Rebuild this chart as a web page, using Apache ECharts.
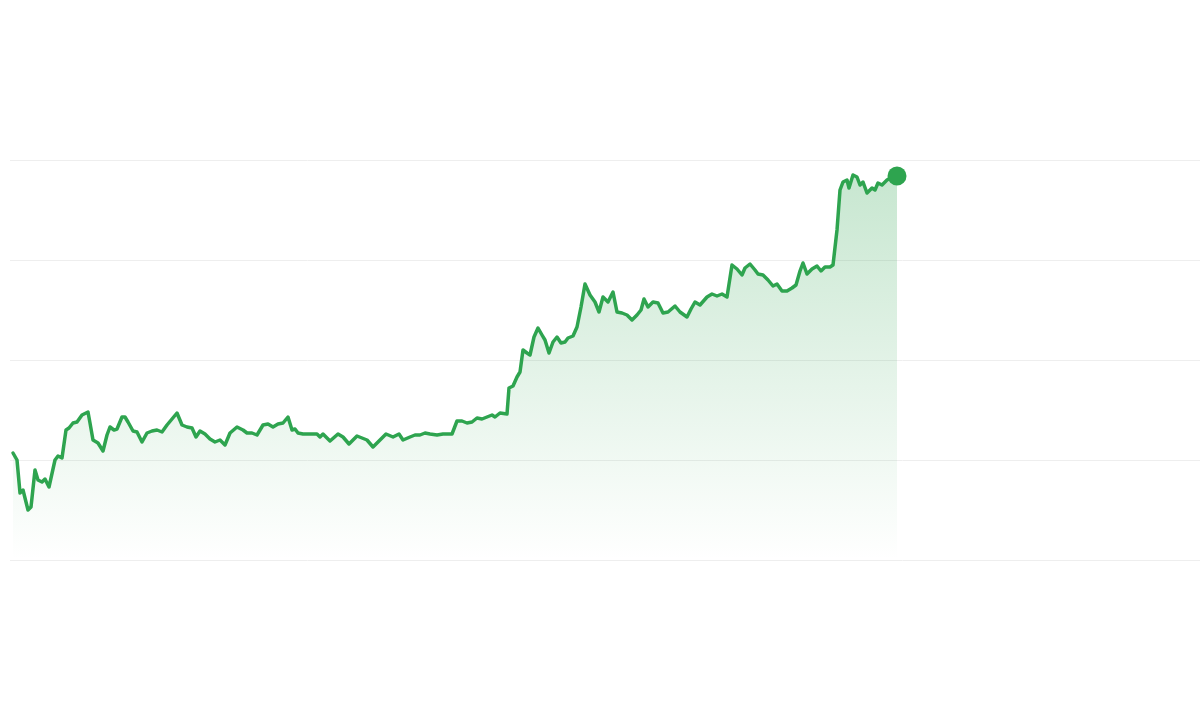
<!DOCTYPE html>
<html>
<head>
<meta charset="utf-8">
<script src="https://cdn.jsdelivr.net/npm/echarts@6/dist/echarts.min.js"></script>
<style>
html,body{margin:0;padding:0;background:#fff;}
#chart{width:1200px;height:728px;}
</style>
</head>
<body>
<div id="chart"></div>
<script>
// Time position along the axis (arbitrary day units) and value for each point
const days = [3,7,10,13,15,18,21,25,28,32,35,39,45,48,52,56,59,63,67,72,78,80,83,88,93,97,100,104,107,112,115,118,123,127,132,137,142,147,152,157,162,167,172,177,182,186,190,195,200,205,210,215,220,227,233,237,242,247,253,258,263,268,273,278,282,285,288,293,300,307,310,313,320,328,333,339,347,352,357,363,368,376,383,389,393,400,405,410,415,420,427,433,442,447,452,457,462,467,472,477,482,485,490,497,499,503,507,510,513,517,520,524,528,532,535,539,543,547,551,555,558,563,567,571,575,580,585,589,593,598,603,607,612,617,622,627,631,634,638,643,648,653,658,665,670,677,681,685,690,697,702,707,712,717,722,727,732,735,740,745,748,753,758,763,767,772,777,782,786,790,793,797,802,807,811,815,820,823,827,830,833,837,839,843,847,850,853,857,862,865,868,872,877,882,887];
const values = [107,100,67,70,62,50,53,90,80,78,81,73,100,104,102,130,132,137,138,145,148,137,120,117,109,125,133,130,131,143,143,138,129,128,118,127,129,130,128,135,141,147,135,133,132,123,129,126,121,118,120,115,127,133,130,127,127,125,135,136,133,136,137,143,130,131,127,126,126,126,123,126,119,126,123,116,124,122,120,113,118,126,123,126,120,123,125,125,127,126,125,126,126,139,139,137,138,142,141,143,145,143,147,146,172,174,183,188,210,207,205,223,232,225,220,207,218,223,217,218,222,224,233,253,276,265,258,248,263,258,268,248,247,245,240,245,250,261,253,258,257,247,248,254,248,243,251,258,255,263,266,264,266,263,295,291,285,292,296,290,286,285,280,274,276,269,269,272,275,289,297,286,291,294,289,293,293,295,330,370,378,380,372,385,383,375,378,367,372,370,377,375,380,383,384];
const yTicks = [0,100,200,300,400];

const lineData = days.map((d,i)=>[d, values[i]]);
const lastPoint = [[days[days.length-1], values[values.length-1]]];

const chart = echarts.init(document.getElementById('chart'), null, {renderer:'canvas'});
chart.setOption({
  animation:false,
  backgroundColor:'#ffffff',
  grid:{left:10,right:0,top:160,bottom:168,containLabel:false},
  xAxis:{
    type:'value', min:0, max:1190,
    show:true,
    axisLine:{show:false}, axisTick:{show:false}, axisLabel:{show:false},
    splitLine:{show:false}
  },
  yAxis:{
    type:'value', min:yTicks[0], max:yTicks[yTicks.length-1], interval:100,
    axisLine:{show:false}, axisTick:{show:false}, axisLabel:{show:false},
    splitLine:{show:true, lineStyle:{color:'#eeeeee', width:1}}
  },
  series:[
    {
      type:'line',
      data:lineData,
      symbol:'none',
      smooth:false,
      lineStyle:{color:'#2ea44f', width:3.5, join:'round', cap:'round'},
      areaStyle:{
        color:new echarts.graphic.LinearGradient(0,0,0,1,[
          {offset:0, color:'rgba(46,164,79,0.38)'},
          {offset:1, color:'rgba(46,164,79,0.0)'}
        ])
      },
      z:2
    },
    {
      type:'scatter',
      data:lastPoint,
      symbol:'circle',
      symbolSize:19,
      itemStyle:{color:'#2ea44f', opacity:1},
      z:3
    }
  ]
});
</script>
</body>
</html>
